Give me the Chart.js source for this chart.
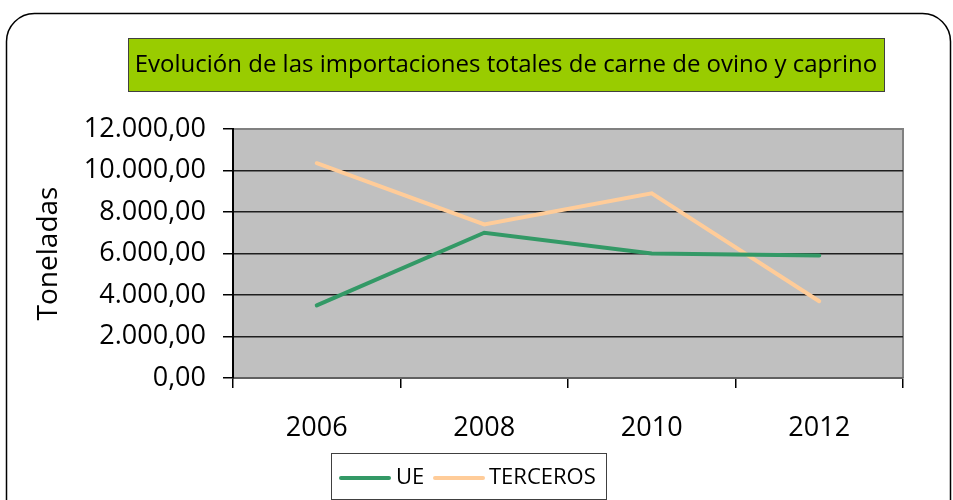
<!DOCTYPE html>
<html>
<head>
<meta charset="utf-8">
<script src="https://cdn.jsdelivr.net/npm/chart.js@4"></script>
<style>
  html, body { margin: 0; padding: 0; background: #fff; }
  canvas { display: block; }
</style>
</head>
<body>
<canvas id="chart" width="953" height="500"></canvas>
<script>
// data
const years = ['2006', '2008', '2010', '2012'];
const ueValues = [3500, 7000, 6000, 5900];
const tercerosValues = [10350, 7400, 8900, 3700];
const seriesNames = ['UE', 'TERCEROS'];
const chartTitle = 'Evolución de las importaciones totales de carne de ovino y caprino';
const yTitle = 'Toneladas';

const FONT = "'Open Sans', 'DejaVu Sans', sans-serif";
const GREEN = '#339966';
const PEACH = '#FFCC99';

// 12000 -> "12.000,00"
function fmt(v) {
  const s = Math.round(v).toString().replace(/\B(?=(\d{3})+(?!\d))/g, '.');
  return s + ',00';
}

// frame, title box and legend box
const decorations = {
  id: 'decorations',
  beforeDraw(chart) {
    const {ctx, chartArea: a} = chart;
    ctx.save();
    ctx.fillStyle = '#C0C0C0';
    ctx.fillRect(a.left, a.top, a.right - a.left, a.bottom - a.top);
    ctx.strokeStyle = '#808080';
    ctx.lineWidth = 2;
    ctx.beginPath();
    ctx.moveTo(a.left, a.top);
    ctx.lineTo(a.right, a.top);
    ctx.lineTo(a.right, a.bottom);
    ctx.stroke();
    ctx.restore();
  },
  afterDraw(chart) {
    const ctx = chart.ctx;
    ctx.save();
    // outer rounded frame
    ctx.strokeStyle = '#000';
    ctx.lineWidth = 1.5;
    ctx.beginPath();
    ctx.roundRect(6.5, 13.5, 944, 600, 28);
    ctx.stroke();

    // title box
    ctx.fillStyle = '#99CC00';
    ctx.fillRect(128, 38, 756, 53);
    ctx.strokeStyle = '#404040';
    ctx.lineWidth = 1;
    ctx.strokeRect(128.5, 38.5, 756, 53);
    ctx.fillStyle = '#000';
    ctx.font = '24px ' + FONT;
    ctx.textAlign = 'center';
    ctx.textBaseline = 'middle';
    ctx.fillText(chartTitle, 506, 65);

    // legend box
    ctx.fillStyle = '#fff';
    ctx.fillRect(331, 453, 275, 46);
    ctx.strokeStyle = '#404040';
    ctx.strokeRect(331.5, 453.5, 275, 46);
    ctx.lineWidth = 4;
    ctx.lineCap = 'round';
    ctx.strokeStyle = GREEN;
    ctx.beginPath(); ctx.moveTo(341, 478); ctx.lineTo(389, 478); ctx.stroke();
    ctx.strokeStyle = PEACH;
    ctx.beginPath(); ctx.moveTo(435, 478); ctx.lineTo(483, 478); ctx.stroke();
    ctx.fillStyle = '#000';
    ctx.textAlign = 'left';
    ctx.font = '22px ' + FONT;
    ctx.fillText(seriesNames[0], 396, 478);
    ctx.fillText(seriesNames[1], 489, 478);
    ctx.restore();
  }
};

const data = {
  labels: years,
  datasets: [
    {
      label: seriesNames[0],
      data: ueValues,
      borderColor: GREEN,
      backgroundColor: GREEN,
      borderWidth: 4,
      borderCapStyle: 'round',
      pointRadius: 0,
      tension: 0
    },
    {
      label: seriesNames[1],
      data: tercerosValues,
      borderColor: PEACH,
      backgroundColor: PEACH,
      borderWidth: 4,
      borderCapStyle: 'round',
      pointRadius: 0,
      tension: 0
    }
  ]
};

const config = {
  type: 'line',
  data,
  plugins: [decorations],
  options: {
    responsive: false,
    devicePixelRatio: 1,
    animation: false,
    layout: {
      padding: {left: 0, right: 50, top: 129, bottom: 0}
    },
    plugins: {
      legend: {display: false},
      title: {display: false},
      tooltip: {enabled: false}
    },
    scales: {
      x: {
        type: 'category',
        offset: true,
        grid: {
          offset: true,
          drawOnChartArea: false,
          tickLength: 10,
          tickColor: '#000',
          lineWidth: 1.5
        },
        border: {color: '#606060', width: 2},
        ticks: {
          color: '#000',
          padding: 24,
          font: {family: FONT, size: 27}
        },
        afterFit(scale) { scale.height = 122; }
      },
      y: {
        min: 0,
        max: 12000,
        grid: {
          color: (c) => c.tick && c.tick.value === 12000 ? 'rgba(0,0,0,0)' : '#1e1e1e',
          tickColor: '#000',
          tickLength: 10,
          lineWidth: 1.5
        },
        border: {color: '#000', width: 2},
        ticks: {
          stepSize: 2000,
          color: '#000',
          padding: 17,
          font: {family: FONT, size: 27},
          callback: (v) => fmt(v)
        },
        title: {
          display: true,
          text: yTitle,
          color: '#000',
          font: {family: FONT, size: 28},
          padding: {top: 32, bottom: 0}
        },
        afterFit(scale) { scale.width = 233; }
      }
    }
  }
};

const ctx = document.getElementById('chart').getContext('2d');
const myChart = new Chart(ctx, config);
</script>
</body>
</html>
